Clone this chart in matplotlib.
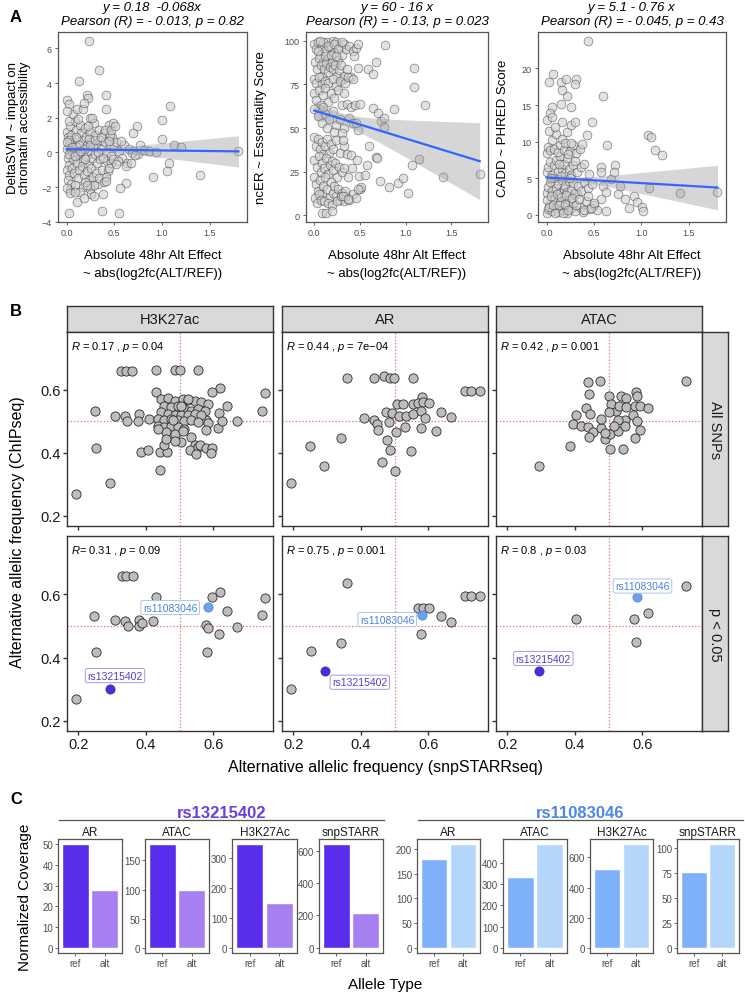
import numpy as np
import matplotlib
matplotlib.use("Agg")
import matplotlib.pyplot as plt

plt.rcParams['font.family'] = ['Liberation Sans', 'DejaVu Sans']
plt.rcParams['mathtext.fontset'] = 'custom'
plt.rcParams['mathtext.it'] = 'Liberation Sans:italic'
plt.rcParams['mathtext.rm'] = 'Liberation Sans'

# ---------------- Panel A data ----------------
svm_pts = [
    (0.0, 1.2), (0.01, 0.9), (0.02, 0.5), (0.0, 0.2), (0.01, -0.3), (0.02, -0.7), (0.0, -1.0), (0.03, -1.3),
    (0.01, -1.6), (0.04, 1.5), (0.05, 1.0), (0.06, 0.6), (0.05, 0.1), (0.07, -0.4), (0.06, -0.9), (0.08, -1.2),
    (0.05, -1.8), (0.09, 1.8), (0.1, 1.3), (0.11, 0.8), (0.1, 0.3), (0.12, -0.1), (0.11, -0.6), (0.13, -1.0),
    (0.12, -1.5), (0.14, 1.6), (0.15, 1.1), (0.16, 0.7), (0.15, 0.0), (0.17, -0.5), (0.16, -0.8), (0.18, -1.3),
    (0.17, -2.0), (0.19, 1.4), (0.2, 0.9), (0.21, 0.4), (0.2, -0.2), (0.22, -0.7), (0.21, -1.1), (0.23, -1.6),
    (0.24, 2.0), (0.25, 1.2), (0.26, 0.6), (0.25, 0.1), (0.27, -0.3), (0.26, -0.9), (0.28, -1.4), (0.29, 1.7),
    (0.3, 1.0), (0.31, 0.5), (0.3, -0.1), (0.32, -0.6), (0.31, -1.2), (0.33, -1.8), (0.34, 1.3), (0.35, 0.7),
    (0.36, 0.2), (0.35, -0.4), (0.37, -1.0), (0.39, 1.1), (0.4, 0.6), (0.41, 0.0), (0.42, -0.5), (0.44, 1.6),
    (0.45, 0.5), (0.46, -0.2), (0.48, 0.9), (0.5, 0.3), (0.47, -0.6), (0.03, 0.7), (0.08, 0.0), (0.13, 0.4),
    (0.18, 0.2), (0.23, 0.8), (0.28, 0.3), (0.33, 0.0), (0.38, -0.3), (0.02, 1.8), (0.07, 2.2), (0.12, 1.9),
    (0.22, 1.5), (0.27, 2.0), (0.04, -2.2), (0.09, -1.9), (0.14, -2.3), (0.19, -1.7), (0.24, -2.1), (0.29, -1.9),
    (0.34, -1.5), (0.39, -1.7), (0.43, -1.1), (0.0, 0.6), (0.02, -0.1), (0.06, 0.3), (0.09, -0.2), (0.1, 0.9),
    (0.14, 0.1), (0.19, -0.4), (0.24, 0.4), (0.3, 0.7), (0.36, 0.9), (0.4, 1.3), (0.45, 1.0), (0.49, -0.4),
    (0.52, 0.6), (0.55, 0.1), (0.58, -0.3), (0.6, 0.4), (0.65, 0.2), (0.7, 0.1), (0.75, -0.1), (0.63, -0.6),
    (0.54, -0.5), (0.44, -0.9), (0.41, -1.4), (0.47, 1.3), (0.49, 1.7),
    # outliers
    (0.23, 6.45), (0.34, 4.75), (0.125, 4.13), (0.415, 3.3), (0.21, 3.3), (0.22, 3.15), (0.005, 3.0),
    (0.025, 2.77), (0.11, 2.5), (0.17, 2.5), (0.41, 2.5), (0.0, 2.38), (0.185, 2.87), (1.08, 2.67),
    (0.995, 1.85), (0.735, 1.5), (0.70, 1.12), (1.0, 0.78), (1.13, 0.44), (1.2, 0.3), (0.765, 0.44),
    (0.807, 0.15), (0.86, 0.06), (0.935, 0.02), (0.68, -0.04), (0.72, -0.14), (0.57, 0.64), (0.505, 1.5),
    (0.445, 0.64), (1.80, 0.1), (1.07, -0.62), (1.05, -1.1), (0.905, -1.4), (1.40, -1.3), (0.62, -0.78),
    (0.675, -0.62), (0.62, -1.79), (0.56, -2.04), (0.52, -0.66), (0.38, -2.4), (0.41, -1.65), (0.26, -2.4),
    (0.29, -2.5), (0.105, -2.85), (0.025, -3.48), (0.37, -3.4), (0.55, -3.52), (0.0, -2.08), (0.04, -2.37),
    (0.085, -2.27), (0.185, -2.66), (0.21, -1.88),
]

ncer_pts = [
    (0.0, 98), (0.02, 95), (0.04, 99), (0.06, 92), (0.08, 97), (0.1, 88), (0.12, 94), (0.14, 99), (0.16, 90),
    (0.18, 96), (0.2, 100), (0.22, 93), (0.24, 99), (0.26, 89), (0.28, 97), (0.3, 92), (0.32, 98), (0.35, 95),
    (0.38, 97), (0.42, 94), (0.46, 96), (0.48, 98), (0.01, 88), (0.03, 84), (0.05, 90), (0.07, 86), (0.09, 80),
    (0.11, 84), (0.13, 87), (0.15, 82), (0.17, 85), (0.19, 88), (0.21, 84), (0.23, 86), (0.25, 80), (0.27, 83),
    (0.29, 86), (0.31, 78), (0.33, 80), (0.36, 84), (0.4, 79), (0.0, 78), (0.02, 76), (0.05, 79), (0.08, 75),
    (0.12, 77), (0.15, 76), (0.2, 78), (0.24, 74), (0.28, 77), (0.34, 76), (0.37, 79), (0.42, 78), (0.1, 99),
    (0.15, 97), (0.22, 98), (0.26, 95), (0.3, 99), (0.06, 100), (0.44, 91), (0.04, 94), (0.12, 91), (0.18, 92),
    (0.24, 91),
    (0.0, 70), (0.02, 66), (0.05, 72), (0.07, 63), (0.1, 69), (0.12, 73), (0.15, 65), (0.18, 70), (0.22, 67),
    (0.26, 72), (0.3, 63), (0.33, 70), (0.36, 64), (0.4, 62), (0.45, 63), (0.5, 64), (0.0, 61), (0.04, 57),
    (0.08, 53), (0.12, 58), (0.16, 55), (0.2, 60), (0.24, 52), (0.28, 55), (0.32, 50), (0.38, 56), (0.42, 53),
    (0.48, 49), (0.14, 50), (0.22, 48), (0.3, 47), (0.1, 62),
    (0.0, 45), (0.02, 40), (0.04, 44), (0.06, 38), (0.08, 42), (0.1, 35), (0.12, 40), (0.14, 44), (0.16, 36),
    (0.18, 41), (0.2, 38), (0.24, 43), (0.28, 36), (0.32, 40), (0.36, 35), (0.0, 32), (0.03, 28), (0.05, 34),
    (0.07, 25), (0.09, 30), (0.11, 27), (0.13, 33), (0.15, 24), (0.17, 29), (0.19, 31), (0.21, 26), (0.23, 30),
    (0.25, 22), (0.27, 28), (0.3, 25), (0.33, 27), (0.37, 22), (0.41, 27), (0.0, 22), (0.02, 18), (0.04, 14),
    (0.06, 20), (0.08, 12), (0.1, 17), (0.12, 22), (0.14, 15), (0.16, 10), (0.18, 19), (0.2, 13), (0.22, 17),
    (0.24, 11), (0.26, 15), (0.28, 9), (0.3, 13), (0.32, 8), (0.35, 11), (0.38, 9), (0.42, 12), (0.46, 10),
    (0.01, 10), (0.03, 7), (0.05, 12), (0.07, 9), (0.11, 8), (0.15, 7), (0.19, 6), (0.25, 8), (0.29, 11),
    (0.34, 14), (0.5, 15),
    # outliers
    (0.775, 97.7), (1.087, 84.6), (1.094, 73.4), (1.21, 63.3), (0.877, 60.8), (0.678, 87.5), (0.587, 83.6),
    (0.641, 81.1), (0.478, 84.2), (0.641, 61.4), (0.696, 58.5), (0.732, 54.1), (0.761, 50.8), (0.768, 56),
    (0.46, 52.7), (0.315, 43.4), (0.598, 39.8), (0.678, 33.4), (0.688, 32.8), (1.149, 32.4), (0.406, 34.4),
    (0.47, 31.5), (0.58, 29), (0.714, 19.9), (0.815, 16), (0.92, 18.3), (0.967, 21.4), (1.02, 13.1),
    (1.065, 28.6), (1.413, 21.8), (1.81, 23.7), (0.486, 22.8), (0.551, 23.2), (0.514, 16), (0.478, 15),
    (0.315, 11.2), (0.37, 9.3), (0.08, 1.5), (0.13, 1.2), (0.19, 2.5),
]

cadd_pts = [
    (0.0, 0.3), (0.02, 0.8), (0.04, 1.5), (0.06, 0.5), (0.08, 2.2), (0.1, 1.0), (0.12, 0.4), (0.14, 1.8),
    (0.16, 0.7), (0.18, 2.5), (0.2, 1.2), (0.22, 0.3), (0.24, 2.0), (0.26, 0.9), (0.28, 1.6), (0.3, 0.5),
    (0.32, 2.8), (0.35, 1.1), (0.38, 0.4), (0.42, 1.9), (0.46, 0.8), (0.5, 1.4),
    (0.0, 3.0), (0.02, 3.8), (0.04, 4.5), (0.06, 3.2), (0.08, 5.0), (0.1, 3.6), (0.12, 4.2), (0.14, 3.0),
    (0.16, 4.8), (0.18, 3.5), (0.2, 4.0), (0.22, 3.1), (0.24, 4.6), (0.26, 3.4), (0.28, 4.3), (0.3, 3.0),
    (0.33, 4.0), (0.36, 3.3), (0.4, 4.5), (0.44, 3.6), (0.48, 4.2),
    (0.0, 5.8), (0.02, 6.5), (0.04, 7.2), (0.06, 5.5), (0.08, 6.8), (0.1, 7.5), (0.12, 6.0), (0.14, 8.0),
    (0.16, 6.3), (0.18, 7.0), (0.2, 5.7), (0.22, 7.8), (0.24, 6.2), (0.26, 5.5), (0.28, 6.8), (0.3, 7.3),
    (0.32, 5.9), (0.36, 6.5), (0.4, 7.0), (0.45, 5.6),
    (0.0, 8.5), (0.02, 9.3), (0.04, 8.8), (0.06, 10.2), (0.08, 9.0), (0.1, 11.0), (0.12, 8.6), (0.14, 9.6),
    (0.16, 10.4), (0.18, 8.9), (0.2, 9.8), (0.22, 11.3), (0.25, 8.7), (0.28, 9.5), (0.31, 8.4), (0.35, 9.0),
    (0.01, 2.0), (0.03, 1.1), (0.05, 2.6), (0.07, 1.4), (0.09, 0.2), (0.11, 2.9), (0.13, 1.3), (0.15, 2.4),
    (0.17, 0.2), (0.19, 1.5), (0.21, 2.7), (0.23, 0.6), (0.27, 2.3), (0.31, 1.3), (0.34, 2.2), (0.4, 0.6),
    (0.44, 2.6), (0.05, 5.0), (0.15, 5.3), (0.25, 5.0), (0.13, 7.0), (0.23, 8.3), (0.03, 11.5), (0.09, 12.0),
    (0.0, 13.0),
    # outliers
    (0.438, 23.8), (0.063, 19.3), (0.025, 18.2), (0.15, 18.2), (0.21, 18.5), (0.315, 18.6), (0.305, 17.9),
    (0.217, 16.3), (0.158, 17.1), (0.596, 16.3), (0.06, 14.8), (0.15, 15.1), (0.263, 14.8), (0.035, 13.9),
    (0.053, 13.4), (0.165, 12.7), (0.256, 12.3), (0.305, 12.7), (0.48, 12.7), (1.07, 10.9), (1.1, 10.7),
    (1.15, 8.8), (1.216, 8.2), (0.642, 9.6), (0.431, 10.9), (0.375, 9.7), (0.263, 9.8), (0.578, 6.6),
    (0.578, 5.8), (0.683, 4.85), (0.726, 6.8), (0.71, 5.8), (0.78, 3.9), (0.754, 2.9), (0.824, 2.1),
    (0.876, 0.9), (0.922, 2.6), (0.957, 1.8), (1.006, 1.1), (1.017, 0.5), (1.087, 3.6), (1.41, 3.0),
    (1.805, 3.1), (0.596, 3.9), (0.631, 3.1), (0.578, 2.1), (0.536, 0.6), (0.631, 0.5), (0.466, 0.9),
    (0.5, 1.6),
]

a_titles = [("y = 0.18  -0.068x", "Pearson (R) = - 0.013, p = 0.82"),
            ("y = 60 - 16 x", "Pearson (R) = - 0.13, p = 0.023"),
            ("y = 5.1 - 0.76 x", "Pearson (R) = - 0.045, p = 0.43")]
a_fit = [(0.18, -0.068), (60, -16), (5.1, -0.76)]
# CI half width: at the centre, at the right end
a_band = [(0.12, 0.9), (3.5, 22), (0.35, 3.05)]
a_ylabels = ["DeltaSVM ~ impact on\nchromatin accessibility", "ncER ~ Essentiality Score", "CADD ~ PHRED Score"]
a_yticks = [[-4, -2, 0, 2, 4, 6], [0, 25, 50, 75, 100], [0, 5, 10, 15, 20]]

# ---------------- Panel B data ----------------
b_marks = ["H3K27ac", "AR", "ATAC"]
b_rows = ["All SNPs", "p < 0.05"]
b_stats = [["$\\it{R}$ = 0.17 , $\\it{p}$ = 0.04", "$\\it{R}$ = 0.44 , $\\it{p}$ = 7e\u221204",
            "$\\it{R}$ = 0.42 , $\\it{p}$ = 0.001"],
           ["$\\it{R}$= 0.31 , $\\it{p}$ = 0.09", "$\\it{R}$ = 0.75 , $\\it{p}$ = 0.001",
            "$\\it{R}$ = 0.8 , $\\it{p}$ = 0.03"]]

h3_all = [
    (0.327, 0.659), (0.340, 0.659), (0.360, 0.659), (0.431, 0.663), (0.485, 0.663), (0.50, 0.663), (0.554, 0.663),
    (0.431, 0.595), (0.249, 0.532), (0.31, 0.516), (0.337, 0.516), (0.345, 0.50), (0.38, 0.524), (0.378, 0.50),
    (0.41, 0.508), (0.254, 0.416), (0.293, 0.303), (0.195, 0.271), (0.385, 0.402), (0.405, 0.41), (0.442, 0.346),
    (0.442, 0.402), (0.463, 0.402), (0.455, 0.425), (0.505, 0.436), (0.535, 0.45), (0.545, 0.425), (0.531, 0.41),
    (0.554, 0.418), (0.561, 0.425), (0.579, 0.415), (0.596, 0.415), (0.594, 0.40), (0.549, 0.397), (0.753, 0.589),
    (0.743, 0.534), (0.669, 0.50), (0.62, 0.606), (0.597, 0.593), (0.64, 0.548), (0.616, 0.527), (0.614, 0.478),
    (0.578, 0.503), (0.585, 0.494), (0.624, 0.50), (0.578, 0.473),
    (0.445, 0.571), (0.465, 0.574), (0.485, 0.566), (0.509, 0.571), (0.524, 0.568), (0.544, 0.566), (0.564, 0.561),
    (0.584, 0.556), (0.455, 0.55), (0.475, 0.545), (0.495, 0.55), (0.514, 0.54), (0.534, 0.534), (0.554, 0.54),
    (0.574, 0.534), (0.445, 0.529), (0.465, 0.524), (0.485, 0.521), (0.504, 0.519), (0.524, 0.519), (0.544, 0.524),
    (0.564, 0.519), (0.435, 0.508), (0.455, 0.503), (0.475, 0.508), (0.495, 0.503), (0.514, 0.50), (0.534, 0.503),
    (0.554, 0.497), (0.435, 0.487), (0.455, 0.481), (0.475, 0.487), (0.495, 0.481), (0.514, 0.476), (0.46, 0.466),
    (0.485, 0.46), (0.509, 0.471), (0.435, 0.476), (0.46, 0.444), (0.485, 0.439), (0.48, 0.503), (0.504, 0.55),
    (0.524, 0.571),
]
ar_all = [
    (0.193, 0.303), (0.251, 0.422), (0.29, 0.358), (0.342, 0.448), (0.36, 0.638), (0.409, 0.511), (0.44, 0.638),
    (0.47, 0.645), (0.487, 0.638), (0.497, 0.638), (0.553, 0.638), (0.708, 0.596), (0.726, 0.596), (0.753, 0.596),
    (0.582, 0.579), (0.506, 0.556), (0.524, 0.556), (0.554, 0.556), (0.569, 0.559), (0.584, 0.561), (0.601, 0.559),
    (0.475, 0.529), (0.492, 0.527), (0.514, 0.518), (0.534, 0.516), (0.554, 0.524), (0.579, 0.534), (0.637, 0.531),
    (0.667, 0.513), (0.591, 0.51), (0.484, 0.497), (0.44, 0.503), (0.448, 0.492), (0.452, 0.473), (0.505, 0.468),
    (0.53, 0.482), (0.577, 0.48), (0.622, 0.469), (0.477, 0.442), (0.487, 0.41), (0.547, 0.405), (0.463, 0.37),
    (0.502, 0.342),
]
atac_all = [
    (0.293, 0.36), (0.386, 0.421), (0.44, 0.626), (0.474, 0.63), (0.442, 0.587), (0.728, 0.627), (0.5, 0.582),
    (0.537, 0.58), (0.552, 0.574), (0.582, 0.593), (0.584, 0.58), (0.433, 0.543), (0.445, 0.524), (0.403, 0.519),
    (0.395, 0.492), (0.418, 0.487), (0.438, 0.481), (0.453, 0.466), (0.443, 0.452), (0.488, 0.444), (0.478, 0.478),
    (0.505, 0.46), (0.527, 0.471), (0.547, 0.503), (0.522, 0.534), (0.507, 0.556), (0.532, 0.55), (0.552, 0.545),
    (0.577, 0.55), (0.592, 0.548), (0.615, 0.543), (0.572, 0.521), (0.584, 0.5), (0.592, 0.473), (0.579, 0.448),
    (0.504, 0.411), (0.543, 0.411), (0.527, 0.506), (0.502, 0.531), (0.517, 0.487), (0.478, 0.508), (0.547, 0.487),
    (0.488, 0.463),
]
h3_sig = [
    (0.329, 0.657), (0.341, 0.657), (0.362, 0.657), (0.43, 0.59), (0.597, 0.59), (0.62, 0.606), (0.64, 0.546),
    (0.753, 0.587), (0.743, 0.533), (0.248, 0.53), (0.31, 0.518), (0.337, 0.515), (0.346, 0.5), (0.379, 0.52),
    (0.379, 0.5), (0.388, 0.51), (0.421, 0.517), (0.579, 0.502), (0.585, 0.492), (0.615, 0.476), (0.669, 0.498),
    (0.254, 0.416), (0.58, 0.416), (0.194, 0.27),
]
ar_sig = [
    (0.193, 0.302), (0.252, 0.422), (0.342, 0.447), (0.36, 0.637), (0.708, 0.595), (0.726, 0.595), (0.753, 0.595),
    (0.569, 0.558), (0.584, 0.558), (0.601, 0.558), (0.637, 0.53), (0.667, 0.512), (0.577, 0.476),
]
atac_sig = [(0.728, 0.626), (0.615, 0.542), (0.574, 0.521), (0.403, 0.521), (0.58, 0.449)]

b_all = [h3_all, ar_all, atac_all]
b_sig = [h3_sig, ar_sig, atac_sig]

# highlighted SNPs in the p < 0.05 row: (point, label centre)
snp_blue = "rs11083046"
snp_purple = "rs13215402"
blue_pt = [(0.585, 0.559), (0.582, 0.535), (0.584, 0.591)]
blue_lab = [(0.472, 0.558), (0.478, 0.52), (0.60, 0.626)]
purple_pt = [(0.293, 0.30), (0.293, 0.357), (0.295, 0.359)]
purple_lab = [(0.309, 0.343), (0.397, 0.322), (0.307, 0.397)]

# ---------------- Panel C data ----------------
c_assays = ["AR", "ATAC", "H3K27Ac", "snpSTARR"]
c_alleles = ["ref", "alt"]
purple_ref = [50, 178, 345, 640]
purple_alt = [28, 100, 150, 213]
blue_ref = [180, 335, 522, 76]
blue_alt = [210, 487, 688, 104]
purple_steps = [10, 50, 100, 200]
blue_steps = [50, 100, 200, 25]

# ---------------- figure ----------------
W, H = 745, 995
fig = plt.figure(figsize=(W / 100, H / 100), dpi=100)


def box(x0, y0, x1, y1):
    return fig.add_axes([x0 / W, 1 - y1 / H, (x1 - x0) / W, (y1 - y0) / H])


def ftext(x, y, s, **kw):
    kw.setdefault("ha", "center")
    kw.setdefault("va", "center")
    fig.text(x / W, 1 - y / H, s, **kw)


# ---- Panel A ----
ftext(10, 18, "A", fontsize=12, fontweight="bold", ha="left")
a_boxes = [(58, 33, 247, 223), (306, 33, 488, 223), (538, 33, 726, 223)]
a_ylab_x = [19, 261, 503]
title_font = ['Liberation Sans Narrow', 'Liberation Sans', 'DejaVu Sans']
for i, pts in enumerate([svm_pts, ncer_pts, cadd_pts]):
    x0, y0, x1, y1 = a_boxes[i]
    ax = box(x0, y0, x1, y1)
    xs = np.array([p[0] for p in pts])
    ys = np.array([p[1] for p in pts])
    ax.scatter(xs, ys, s=40, facecolor="#cfcfcf", edgecolor="#333333", linewidths=0.5, alpha=0.6, zorder=2)
    b0, b1 = a_fit[i]
    xx = np.linspace(0, xs.max(), 120)
    yy = b0 + b1 * xx
    hmin, hend = a_band[i]
    xm = xs.mean()
    d = (hend ** 2 - hmin ** 2) / (xs.max() - xm) ** 2
    half = np.sqrt(hmin ** 2 + d * (xx - xm) ** 2)
    ax.fill_between(xx, yy - half, yy + half, color="#999999", alpha=0.4, lw=0, zorder=3)
    ax.plot(xx, yy, color="#3366ff", lw=1.6, zorder=4)
    ax.set_xticks([0, 0.5, 1.0, 1.5])
    ax.set_xticklabels(["0.0", "0.5", "1.0", "1.5"])
    ax.set_yticks(a_yticks[i])
    ax.tick_params(labelsize=6.5, labelcolor="#4d4d4d", color="#4d4d4d", length=2.5, width=0.6, pad=2)
    for s in ax.spines.values():
        s.set_color("#555555")
        s.set_linewidth(0.9)
    cx = (x0 + x1) / 2
    ftext(cx, 8, a_titles[i][0], fontsize=9.5, style="italic", family=title_font)
    ftext(cx, 22, a_titles[i][1], fontsize=9.5, style="italic", family=title_font)
    ftext(cx, 256, "Absolute 48hr Alt Effect", fontsize=9.5)
    ftext(cx, 274, "~ abs(log2fc(ALT/REF))", fontsize=9.5)
    ftext(a_ylab_x[i], (y0 + y1) / 2, a_ylabels[i], fontsize=9.5, rotation=90, linespacing=0.95)

# ---- Panel B ----
ftext(10, 312, "B", fontsize=12, fontweight="bold", ha="left")
b_cols = [(67, 273), (282, 488), (496, 702)]
b_rowpx = [(333, 527), (537, 732)]
blue_c, purple_c = "#6fa0ef", "#4b2fd6"
for c, (cx0, cx1) in enumerate(b_cols):
    st = box(cx0, 307, cx1, 333)
    st.set_facecolor("#d9d9d9")
    st.set_xticks([])
    st.set_yticks([])
    for s in st.spines.values():
        s.set_color("#333333")
        s.set_linewidth(1)
    st.text(0.5, 0.5, b_marks[c], transform=st.transAxes, ha="center", va="center", fontsize=10.5,
            color="#1a1a1a")
    for r, (ry0, ry1) in enumerate(b_rowpx):
        ax = box(cx0, ry0, cx1, ry1)
        pts = b_all[c] if r == 0 else b_sig[c]
        ax.axvline(0.5, color="#e07070", ls=":", lw=0.9, zorder=1)
        ax.axhline(0.5, color="#e07070", ls=":", lw=0.9, zorder=1)
        ax.scatter([p[0] for p in pts], [p[1] for p in pts], s=44, facecolor="#bdbdbd",
                   edgecolor="#2b2b2b", linewidths=0.6, zorder=3)
        if r == 1:
            ax.scatter([blue_pt[c][0]], [blue_pt[c][1]], s=44, facecolor=blue_c, edgecolor="#4f7fd0",
                       linewidths=0.5, zorder=4)
            ax.scatter([purple_pt[c][0]], [purple_pt[c][1]], s=44, facecolor=purple_c, edgecolor="#3a20b0",
                       linewidths=0.5, zorder=4)
            ax.text(blue_lab[c][0], blue_lab[c][1], snp_blue, ha="center", va="center", fontsize=7.5,
                    color="#4a82e0", zorder=5,
                    bbox=dict(boxstyle="round,pad=0.2", fc="white", ec="#a9c4f0", lw=0.7))
            ax.text(purple_lab[c][0], purple_lab[c][1], snp_purple, ha="center", va="center", fontsize=7.5,
                    color="#5a3ad0", zorder=5,
                    bbox=dict(boxstyle="round,pad=0.2", fc="white", ec="#a898e4", lw=0.7))
        ax.text(0.02, 0.93, b_stats[r][c], transform=ax.transAxes, ha="left", va="center", fontsize=8)
        ax.set_xlim(0.167, 0.776)
        ax.set_ylim(0.168, 0.784)
        ax.set_xticks([0.2, 0.4, 0.6])
        ax.set_yticks([0.2, 0.4, 0.6])
        ax.tick_params(labelsize=10.5, labelcolor="#1a1a1a", color="#333333", length=3, width=1, pad=1.5)
        if c > 0:
            ax.set_yticklabels([])
        if r == 0:
            ax.set_xticklabels([])
        for s in ax.spines.values():
            s.set_color("#333333")
            s.set_linewidth(1)
for r, (ry0, ry1) in enumerate(b_rowpx):
    st = box(702, ry0, 728, ry1)
    st.set_facecolor("#d9d9d9")
    st.set_xticks([])
    st.set_yticks([])
    for s in st.spines.values():
        s.set_color("#333333")
        s.set_linewidth(1)
    st.text(0.5, 0.5, b_rows[r], transform=st.transAxes, ha="center", va="center", fontsize=10.5,
            rotation=-90, color="#1a1a1a")
ftext(18, 532, "Alternative allelic frequency (ChIPseq)", fontsize=11.5, rotation=90)
ftext(385, 768, "Alternative allelic frequency (snpSTARRseq)", fontsize=11.5)

# ---- Panel C ----
ftext(10, 800, "C", fontsize=12, fontweight="bold", ha="left")
groups = [
    (snp_purple, "#6a3fe2", (59, 384), [(58, 122), (145, 209), (232, 297), (319, 383)],
     purple_ref, purple_alt, ("#5a2ded", "#a67ff0"), purple_steps),
    (snp_blue, "#4d86e8", (418, 743), [(417, 480), (503, 567), (590, 653), (677, 739)],
     blue_ref, blue_alt, ("#7fb1fb", "#b5d6fb"), blue_steps),
]
for name, tcol, (lx0, lx1), boxes, refs, alts, cols, steps in groups:
    ftext((lx0 + lx1) / 2, 813, name, fontsize=12, fontweight="bold", color=tcol)
    fig.add_artist(plt.Line2D([lx0 / W, lx1 / W], [1 - 821 / H, 1 - 821 / H], color="#555555", lw=0.9))
    for j, (bx0, bx1) in enumerate(boxes):
        ax = box(bx0, 840, bx1, 954)
        vals = [refs[j], alts[j]]
        ax.bar([0, 1], vals, width=0.9, color=cols, edgecolor="white", linewidth=1)
        top = max(vals)
        ax.set_ylim(-0.05 * top, 1.05 * top)
        ax.set_xlim(-0.6, 1.6)
        ax.set_xticks([0, 1])
        ax.set_xticklabels(c_alleles)
        ax.set_yticks(np.arange(0, top + 1e-9, steps[j]))
        ax.tick_params(labelsize=7, labelcolor="#4d4d4d", color="#4d4d4d", length=2, width=0.6, pad=1.5)
        for s in ax.spines.values():
            s.set_color("#555555")
            s.set_linewidth(0.9)
        ftext((bx0 + bx1) / 2, 833, c_assays[j], fontsize=8.5, color="#1a1a1a")
ftext(25, 897, "Normalized Coverage", fontsize=11, rotation=90)
ftext(385, 985, "Allele Type", fontsize=11)

fig.savefig("out.png", dpi=100)
